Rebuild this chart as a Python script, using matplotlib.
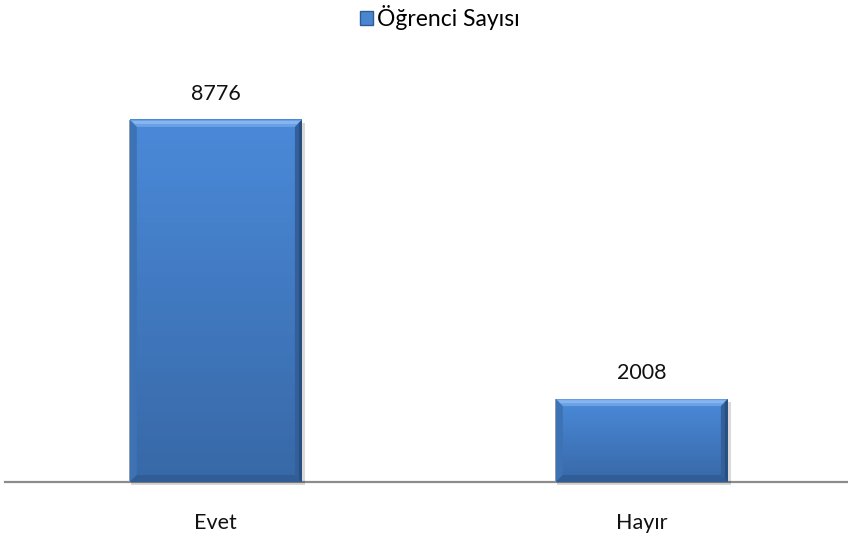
import matplotlib
matplotlib.use("Agg")
import matplotlib.pyplot as plt
from matplotlib.patches import Polygon, Rectangle
from matplotlib.transforms import IdentityTransform
import numpy as np

categories = ["Evet", "Hayır"]
values = [8776, 2008]
series_name = "Öğrenci Sayısı"

plt.rcParams['font.family'] = ['Lato', 'DejaVu Sans']

W, H = 848, 541
fig = plt.figure(figsize=(W/100, H/100), dpi=100)
ax_bottom_px = 482
ax_top_px = 69.5
ax = fig.add_axes([5/W, (H-ax_bottom_px)/H, 843/W, (ax_bottom_px-ax_top_px)/H])

x = np.arange(len(categories))
bw = 0.404
base = "#427dc4"
bars = ax.bar(x, values, width=bw, color=base, edgecolor="none", zorder=2)
ax.set_xlim(-0.495, 1.484)
ax.set_ylim(0, 10000)

for s in ["top", "right", "left"]:
    ax.spines[s].set_visible(False)
ax.spines["bottom"].set_color("#8c8c8c")
ax.spines["bottom"].set_linewidth(1.6)
ax.spines["bottom"].set_zorder(1)
ax.set_yticks([])
ax.set_xticks(x)
ax.set_xticklabels(categories, fontsize=15.5, color="#111111")
ax.tick_params(axis="x", length=0, pad=22)

for b, v in zip(bars, values):
    ax.annotate(str(v), (b.get_x() + b.get_width()/2, v), xytext=(0, 14.4),
                textcoords="offset points", ha="center", va="baseline",
                fontsize=15.5, color="#111111")

# bevel decoration in display space
fig.canvas.draw()
T = IdentityTransform()
bev = 7
top_c = np.array([74, 137, 216]) / 255
bot_c = np.array([55, 104, 167]) / 255
for b in bars:
    (x0, y0), (x1, y1) = ax.transData.transform([(b.get_x(), 0), (b.get_x()+b.get_width(), b.get_height())])
    # shadow
    fig.add_artist(Rectangle((x0+1, y0-3), x1-x0+2, y1-y0, transform=T, color="#000000", alpha=0.15, zorder=1.5, lw=0))
    # vertical gradient body
    n = 60
    for i in range(n):
        ya = y0 + (y1-y0)*i/n
        yb = y0 + (y1-y0)*(i+1)/n
        t = i/(n-1)
        c = bot_c*(1-t) + top_c*t
        fig.add_artist(Rectangle((x0, ya), x1-x0, yb-ya+0.5, transform=T, color=c, lw=0, zorder=2.1))
    # top bevel (light)
    fig.add_artist(Polygon([(x0, y1), (x1, y1), (x1-bev, y1-bev), (x0+bev, y1-bev)], transform=T,
                           color="#6aa0e4", lw=0, zorder=2.2))
    fig.add_artist(Polygon([(x0+2, y1-1), (x1-2, y1-1), (x1-bev+2, y1-bev+3), (x0+bev-2, y1-bev+3)], transform=T,
                           color="#86b6f0", lw=0, zorder=2.25))
    # left bevel
    fig.add_artist(Polygon([(x0, y1), (x0+bev, y1-bev), (x0+bev, y0+bev), (x0, y0)], transform=T,
                           color="#3d72b4", lw=0, zorder=2.2))
    # right bevel (dark)
    fig.add_artist(Polygon([(x1, y1), (x1-bev, y1-bev), (x1-bev, y0+bev), (x1, y0)], transform=T,
                           color="#33609b", lw=0, zorder=2.2))
    fig.add_artist(Polygon([(x1, y1), (x1-3, y1-3), (x1-3, y0+3), (x1, y0)], transform=T,
                           color="#294e80", lw=0, zorder=2.25))
    # bottom bevel
    fig.add_artist(Polygon([(x0, y0), (x0+bev, y0+bev), (x1-bev, y0+bev), (x1, y0)], transform=T,
                           color="#315d96", lw=0, zorder=2.2))
    # thin outline on left
    fig.add_artist(Rectangle((x0-1, y0), 1.2, y1-y0, transform=T, color="#8a9bb0", lw=0, zorder=2.3))

# legend
leg = fig.legend([Rectangle((0, 0), 1, 1, facecolor="#4a86d0", edgecolor="#2f5a94")], [series_name],
                 loc="center", bbox_to_anchor=(440/W, 1 - 18/H), frameon=False, fontsize=16.5,
                 handlelength=0.55, handleheight=0.55, handletextpad=0.2)

fig.savefig("out.png", dpi=100)
